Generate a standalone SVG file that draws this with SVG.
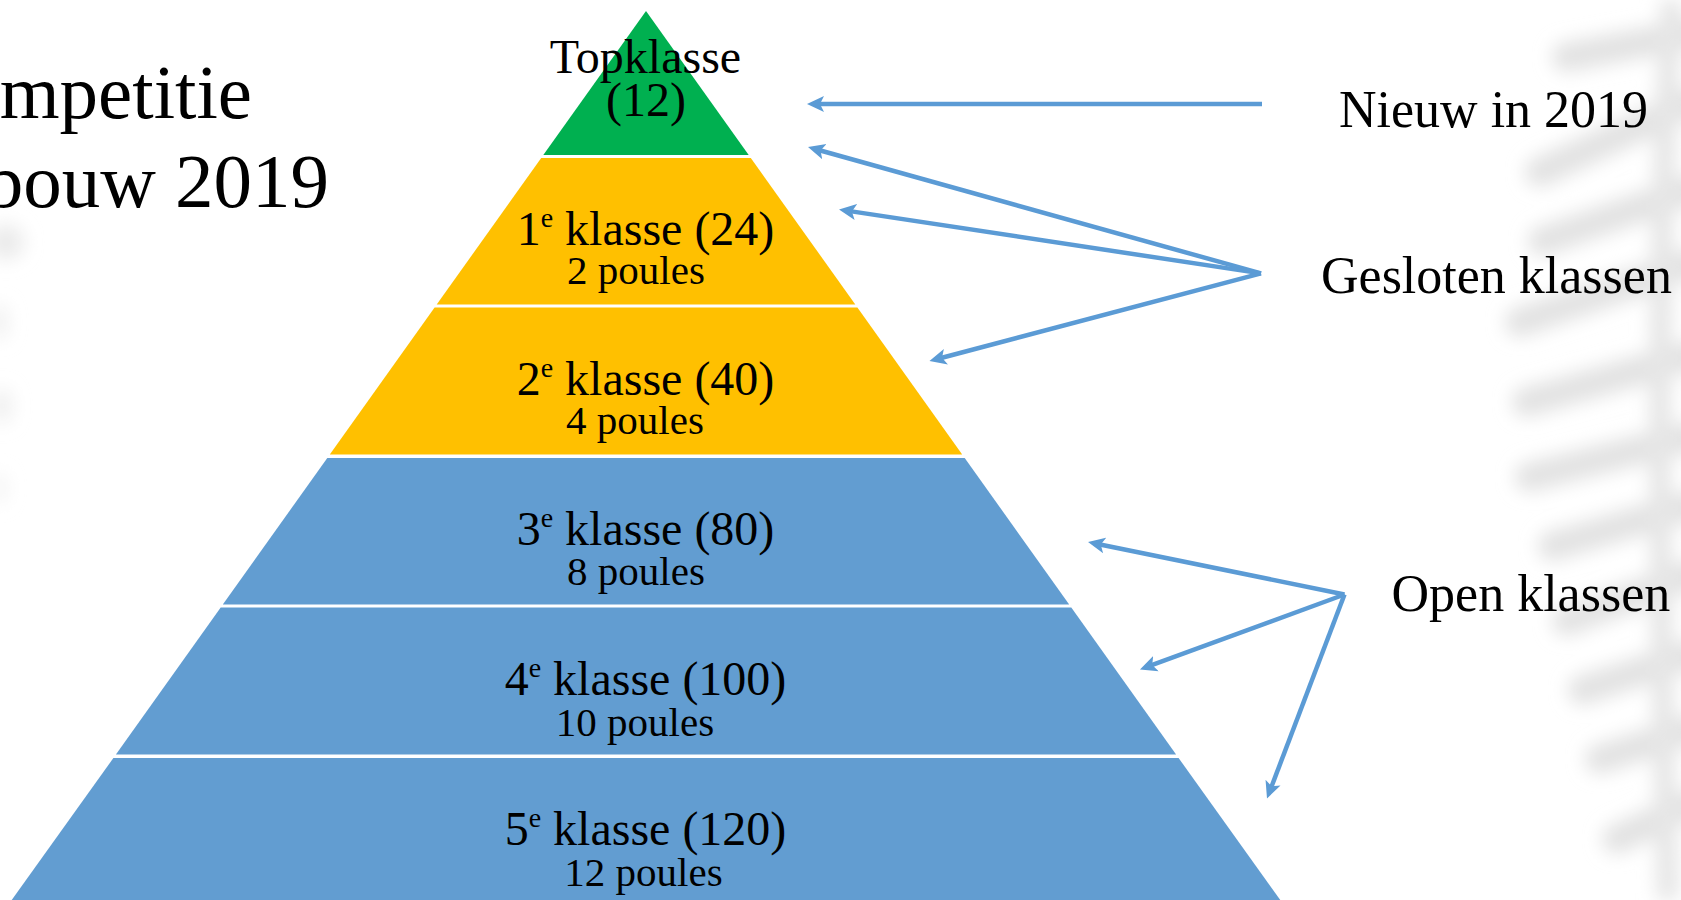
<svg xmlns="http://www.w3.org/2000/svg" width="1681" height="900" viewBox="0 0 1681 900">
<defs>
<style>
.t{font-family:"Liberation Serif","Times New Roman",serif;fill:#000;}
.main{font-size:48px;text-anchor:middle;}
.sub{font-size:41px;text-anchor:middle;}
.side{font-size:52px;}
.title{font-size:77px;text-anchor:end;}
.green{fill:#00B050;}
.yellow{fill:#FFC000;}
.blue{fill:#629DD1;}
.arrow{stroke:#5B9BD5;stroke-width:4.5;fill:none;marker-end:url(#head);}
.leaf{stroke:#e3e3e3;stroke-width:30;stroke-linecap:round;fill:none;}
</style>
<marker id="head" markerUnits="userSpaceOnUse" markerWidth="18" markerHeight="18" refX="6" refY="8" orient="auto" viewBox="0 0 18 16">
<path d="M0,0 L17,8 L0,16 L4,8 Z" fill="#5B9BD5"/>
</marker>
<filter id="blur" x="-30%" y="-30%" width="160%" height="160%"><feGaussianBlur stdDeviation="9"/></filter>
</defs>
<rect width="1681" height="900" fill="#fff"/>
<g id="watermark" filter="url(#blur)">
<path class="leaf" d="M1567,57 L1690,34 M1540,172 L1690,103 M1543,241 L1690,190 M1520,322 L1690,264 M1527,402 L1690,356 M1530,477 L1690,437 M1553,546 L1690,506 M1567,621 L1690,575 M1583,690 L1690,655 M1600,759 L1690,730 M1617,839 L1690,805"/>
<path d="M1672,0 C1660,200 1655,450 1668,900" stroke="#e6e6e6" stroke-width="22" fill="none"/>
<ellipse cx="6" cy="242" rx="18" ry="18" fill="#ebebeb"/>
<ellipse cx="0" cy="322" rx="8" ry="18" fill="#efefef"/>
<ellipse cx="2" cy="406" rx="10" ry="18" fill="#efefef"/>
<ellipse cx="0" cy="488" rx="6" ry="16" fill="#f2f2f2"/>
</g>
<g id="title">
<text class="t title" x="252" y="118">Competitie</text>
<text class="t title" x="329" y="207">opbouw 2019</text>
</g>
<g id="topklasse">
<polygon class="green" points="646,11 748.7,155 543.3,155"/>
<text class="t main" x="645.5" y="73">Topklasse</text>
<text class="t main" x="646" y="116">(12)</text>
</g>
<g id="klasse1">
<polygon class="yellow" points="541.2,158 750.8,158 855.3,304.5 436.7,304.5"/>
<text class="t main" x="645.5" y="244.5">1<tspan font-size="28" dy="-18">e</tspan><tspan dy="18"> klasse (24)</tspan></text>
<text class="t sub" x="636" y="284">2 poules</text>
</g>
<g id="klasse2">
<polygon class="yellow" points="434.6,307.5 857.4,307.5 962.2,454.5 329.8,454.5"/>
<text class="t main" x="645.5" y="394.5">2<tspan font-size="28" dy="-18">e</tspan><tspan dy="18"> klasse (40)</tspan></text>
<text class="t sub" x="635" y="434">4 poules</text>
</g>
<g id="klasse3">
<polygon class="blue" points="327.3,458 964.7,458 1069.2,604.5 222.8,604.5"/>
<text class="t main" x="645.5" y="544.5">3<tspan font-size="28" dy="-18">e</tspan><tspan dy="18"> klasse (80)</tspan></text>
<text class="t sub" x="636" y="585">8 poules</text>
</g>
<g id="klasse4">
<polygon class="blue" points="220.7,607.5 1071.3,607.5 1176.1,754.5 115.9,754.5"/>
<text class="t main" x="645.5" y="694.5">4<tspan font-size="28" dy="-18">e</tspan><tspan dy="18"> klasse (100)</tspan></text>
<text class="t sub" x="635" y="735.5">10 poules</text>
</g>
<g id="klasse5">
<polygon class="blue" points="113.4,758 1178.6,758 1281,901 11,901"/>
<text class="t main" x="645.5" y="844.5">5<tspan font-size="28" dy="-18">e</tspan><tspan dy="18"> klasse (120)</tspan></text>
<text class="t sub" x="643.5" y="885.5">12 poules</text>
</g>
<g id="labels">
<text class="t side" x="1339" y="126.5">Nieuw in 2019</text>
<text class="t side" x="1321" y="292.5">Gesloten klassen</text>
<text class="t side" x="1391.5" y="611">Open klassen</text>
</g>
<g id="connectors">
<line class="arrow" x1="1262" y1="104" x2="818" y2="104"/>
<line class="arrow" x1="1261" y1="273.4" x2="818.6" y2="150"/>
<line class="arrow" x1="1261" y1="273.4" x2="849.9" y2="211.1"/>
<line class="arrow" x1="1261" y1="273.4" x2="940.1" y2="358.2"/>
<line class="arrow" x1="1344.5" y1="594.5" x2="1098.8" y2="544.2"/>
<line class="arrow" x1="1344.5" y1="594.5" x2="1150.3" y2="665.7"/>
<line class="arrow" x1="1344.5" y1="594.5" x2="1270.9" y2="788.2"/>
</g>
</svg>
